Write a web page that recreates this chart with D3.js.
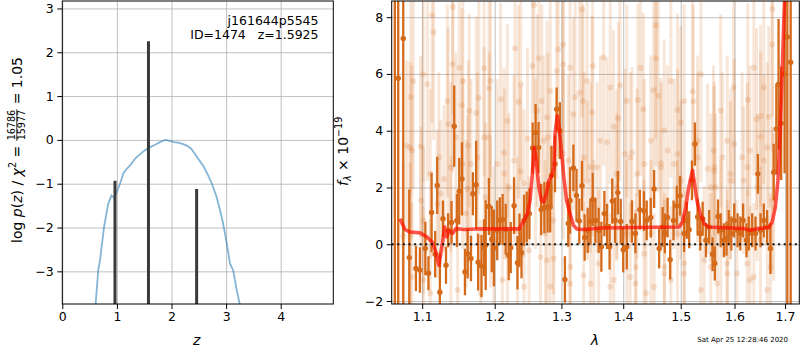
<!DOCTYPE html>
<html>
<head>
<meta charset="utf-8">
<script src="https://cdn.jsdelivr.net/npm/d3@7"></script>
<style>
body { margin: 0; background: #fff; }
svg text { font-family: "DejaVu Sans", sans-serif; white-space: pre; }
.grid line { stroke: #b0b0b0; stroke-width: 0.8; }
.grid path { display: none; }
.axis path { display: none; }
.axis line { stroke: #000; stroke-width: 1; }
.axis text { font-size: 12.5px; fill: #000; }
</style>
</head>
<body>
<div id="chart"></div>
<script>
// ---- data: left panel, log p(z)
var zTicks = [0, 1, 2, 3, 4];
var logpTicks = [-3, -2, -1, 0, 1, 2, 3];
var pzCurve = [[0.59,-3.95],[0.61,-3.75],[0.66,-2.95],[0.69,-2.75],[0.764,-1.99],[0.84,-1.46],[0.90,-1.27],[0.95,-1.32],
  [0.997,-1.19],[1.057,-1.0],[1.12,-0.76],[1.18,-0.66],[1.25,-0.57],[1.33,-0.43],[1.42,-0.33],[1.51,-0.24],
  [1.60,-0.17],[1.70,-0.11],[1.79,-0.05],[1.88,0.0],[1.97,-0.02],[2.05,-0.05],[2.12,-0.06],[2.20,-0.09],
  [2.28,-0.13],[2.36,-0.2],[2.43,-0.32],[2.50,-0.45],[2.58,-0.59],[2.66,-0.78],[2.74,-1.0],[2.82,-1.28],
  [2.89,-1.61],[2.94,-1.88],[2.98,-2.14],[3.03,-2.5],[3.07,-2.82],[3.13,-2.98],[3.19,-3.4],[3.25,-3.75],[3.28,-3.95]];
// narrow peaks: [z, top]
var pzPeaks = [[0.965, -0.93], [1.578, 2.25], [2.46, -1.12]];
var idLines = ["j161644p5545", "ID=1474   z=1.5925"];

// ---- data: right panel, spectrum
var lamTicks = [1.1, 1.2, 1.3, 1.4, 1.5, 1.6, 1.7];
var fluxTicks = [-2, 0, 2, 4, 6, 8];
var strongLam = [1.0645,1.0688,1.0753,1.0831,1.0918,1.0970,1.1042,1.1083,1.1125,1.1172,1.1200,1.1236,1.1278,1.1319,1.1347,
  1.1394,1.1431,1.1468,1.1500,1.1538,1.1579,1.1617,1.1663,1.1690,1.1736,1.1764,1.1811,1.1847,1.1871,1.1917,1.1958,1.1989,
  1.2036,1.2074,1.2114,1.2159,1.2203,1.2233,1.2282,1.2332,1.2362,1.2392,1.2430,1.2470,1.2510,1.2559,1.2603,1.2648,1.2688,
  1.2737,1.2786,1.2826,1.2845,1.2900,1.2926,1.2975,1.3054,1.3107,1.3135,1.3188,1.3237,1.3281,1.3325,1.3367,1.3416,1.3459,
  1.3497,1.3541,1.3594,1.3638,1.3687,1.3731,1.3773,1.3817,1.3865,1.3910,1.3958,1.4000,1.4060,1.4148,1.4206,1.4282,1.4353,
  1.4400,1.4471,1.4529,1.4617,1.4677,1.4718,1.4765,1.4811,1.4871,1.4929,1.4988,1.5061,1.5110,1.5153,1.5203,1.5258,1.5308,
  1.5355,1.5400,1.5460,1.5521,1.5584,1.5626,1.5687,1.5737,1.5797,1.5847,1.5890,1.5939,1.5994,1.6059,1.6112,1.6166,1.6231,
  1.6276,1.6343,1.6408,1.6454,1.6507,1.6572,1.6639,1.6704,1.6770,1.6823,1.6868,1.6921,1.6990,1.7046,1.7115];
var strongFlux = [-3.0,5.85,7.25,-0.47,-0.85,-0.91,-0.15,-1.02,1.12,-0.35,2.07,-1.69,0.90,-0.74,0.49,
  0.77,4.16,0.84,1.87,2.30,-0.98,-0.33,-0.50,1.78,2.10,-0.63,-0.77,-0.12,-0.03,1.33,0.18,-0.13,
  0.49,0.84,0.87,0.53,-0.39,-0.12,1.36,-0.65,0.14,-0.30,0.84,0.96,1.08,3.39,3.94,3.41,1.22,
  1.29,1.31,1.31,2.42,2.83,4.76,4.00,-1.24,0.73,1.54,2.69,1.72,0.82,2.06,0.24,0.49,0.80,
  1.57,0.84,0.49,-0.09,1.08,0.63,-0.09,1.52,0.84,1.82,0.80,-0.19,-0.09,0.80,0.38,1.22,1.17,
  0.84,0.94,1.95,-0.15,0.61,0.38,0.94,-0.54,0.84,1.36,1.71,0.38,0.84,0.51,2.25,3.53,0.96,
  0.38,0.90,0.14,0.61,-0.35,-0.68,0.98,0.49,0.14,0.20,0.61,0.38,0.84,0.49,0.38,0.84,0.14,
  0.38,0.49,0.38,2.48,0.49,0.84,0.61,-0.15,2.54,4.06,5.64,4.26,6.00,7.30,6.41];
var strongErr = [15,15,12,2.4,0.8,0.8,0.94,0.6,1.4,0.82,1.0,1.4,0.64,0.65,0.6,
  0.75,1.43,0.94,1.17,1.29,0.82,0.88,0.8,0.76,1.55,1.0,1.1,1.0,1.58,1.0,1.17,1.35,
  1.05,0.82,0.9,0.9,0.88,0.9,1.0,0.94,0.94,0.9,0.9,0.9,0.9,0.9,1.0,0.9,0.9,
  0.9,0.9,0.9,1.05,1.0,0.76,1.0,0.82,0.82,1.17,0.82,0.94,0.8,0.88,0.82,0.8,0.8,
  0.94,0.8,0.8,0.88,0.8,0.8,0.8,0.8,0.8,0.76,0.8,0.8,0.8,0.75,0.7,0.7,0.7,
  0.7,0.7,0.67,0.7,0.7,0.7,0.7,0.7,0.7,0.7,0.7,0.65,0.65,0.65,0.7,0.76,0.65,
  0.6,0.6,0.6,0.6,0.6,0.6,0.6,0.6,0.6,0.6,0.6,0.6,0.6,0.6,0.6,0.6,0.6,
  0.6,0.6,0.6,0.7,0.6,0.6,0.6,0.9,1.0,1.6,2.3,2.0,3.5,15,15];

var faintLam = [1.1131,1.1153,1.1413,1.1408,1.1500,1.1069,1.0883,1.0849,1.1538,1.1347,1.0797,1.0979,1.0866,1.1663,1.1385,
  1.1292,1.0987,1.1200,1.0753,1.1014,1.0862,1.1478,1.1107,1.1617,1.1246,1.1454,1.1625,1.1547,1.2297,1.1847,1.2555,1.2653,
  1.2826,1.1774,1.1917,1.2085,1.2347,1.2697,1.1736,1.1850,1.1920,1.2134,1.2481,1.2792,1.2381,1.2430,1.2140,1.1940,1.2183,
  1.2504,1.2678,1.2826,1.2110,1.2430,1.1801,1.2579,1.3325,1.3675,1.3497,1.3946,1.3216,1.3286,1.3341,1.3487,1.3919,1.3838,
  1.3731,1.3188,1.4148,1.3459,1.2875,1.2880,1.3135,1.3351,1.3594,1.3784,1.4118,1.3026,1.3030,1.2951,1.4559,1.4562,1.4519,
  1.4601,1.4247,1.4342,1.4942,1.5215,1.5226,1.5000,1.4705,1.5602,1.5492,1.4647,1.4882,1.4353,1.4529,1.4206,1.4823,1.5368,
  1.5552,1.5061,1.4710,1.4388,1.6256,1.6428,1.6507,1.6671,1.6738,1.6744,1.5994,1.5768,1.5613,1.6178,1.6510,1.6146,1.5675,
  1.6047,1.6375,1.6639,1.5859,1.6244,1.6740,1.5644,1.2727,1.3026,1.3355,1.3568,1.3893,1.4120,1.4358,1.4650,1.4945,1.5308,
  1.5616,1.5921,1.6248,1.6572,1.2777,1.3138,1.3462,1.3842,1.4217,1.4708,1.5064,1.5429,1.5862,1.6299,1.6704,
  1.0840,1.1014,1.1639,1.1338,1.1550,1.1222,1.1107,1.1593,1.0845,1.1385,1.1018,1.1940,1.2183,1.2381,1.2629,1.2777,
  1.1756,1.2036,1.2282,1.2603,1.1871,1.2207,1.2752,1.1986,1.2332,1.2926,1.3135,1.3406,1.3784,1.4060,1.3622,1.4030,
  1.3107,1.3410,1.3893,1.3513,1.4063,1.4295,1.4823,1.5368,1.5061,1.4471,1.4765,1.5308,1.4236,1.5000,1.5552,1.4475,
  1.4942,1.5737,1.5982,1.6375,1.6572,1.5859,1.6299,1.6639,1.5921,1.6442,1.5740,1.6507,1.6770];
var faintFlux = [8.07,7.47,8.36,6.34,6.22,5.64,5.75,5.19,4.91,4.23,3.47,3.44,3.30,2.83,2.71,
  2.30,1.54,1.43,0.28,-1.26,-1.15,-1.61,-1.73,1.95,1.78,3.76,3.47,2.83,6.90,6.20,6.28,6.55,
  5.40,5.15,5.50,5.11,5.02,5.05,4.62,3.76,3.76,3.22,3.72,3.76,2.57,2.15,2.48,1.08,-0.45,
  -0.21,-0.45,-1.50,-1.26,-1.50,-1.73,8.42,8.27,6.57,6.28,5.60,5.18,5.34,5.05,4.64,4.44,4.14,
  3.59,4.58,3.24,2.71,0.84,-0.50,-1.38,-1.09,-0.68,-1.50,-1.15,7.04,6.34,6.87,7.72,6.55,5.43,
  5.23,5.08,4.76,4.73,5.38,5.03,4.29,4.02,3.30,2.66,2.85,2.83,-0.33,-1.50,-1.38,-1.26,-1.61,
  -0.80,-1.03,-0.80,-1.73,5.09,4.41,4.52,4.49,7.04,8.30,3.53,3.06,2.57,2.25,3.79,3.06,-1.38,
  -1.03,-1.15,-1.61,-0.68,-0.68,1.54,2.01,3.65,3.18,3.06,2.71,2.48,3.06,2.83,2.71,3.18,3.06,
  2.71,2.48,2.71,2.95,-0.56,-0.80,-1.38,-1.26,-0.80,-1.03,-0.68,-0.56,-1.03,-1.26,-0.80,
  3.41,5.99,4.70,5.05,5.75,3.06,2.48,1.08,0.26,0.49,0.84,5.75,4.35,5.64,4.70,4.47,
  3.06,2.83,2.95,2.83,1.66,2.01,0.38,0.14,0.49,6.10,6.22,5.75,5.52,5.05,3.65,3.18,
  2.95,2.25,2.01,0.38,0.38,6.22,5.75,5.99,5.05,3.65,3.30,3.65,2.48,2.25,2.01,0.38,
  0.38,4.70,5.52,6.22,5.52,3.65,3.30,3.41,2.25,2.01,0.38,0.14,1.31];
var faintErr = [3.8,3.8,3.8,3.8,3.8,3.4,3.8,3.4,3.4,3.4,3.0,3.2,3.0,3.0,3.0,
  2.6,2.6,2.6,2.6,2.6,2.6,2.6,2.6,2.6,2.6,3.0,3.0,3.0,3.8,3.8,3.8,3.8,
  3.4,3.4,3.4,3.4,3.4,3.4,3.4,3.2,3.0,3.0,3.2,3.0,3.0,2.6,3.0,2.6,2.6,
  2.6,2.6,2.6,2.6,2.6,2.6,3.8,3.8,3.8,3.8,3.4,3.4,3.4,3.4,3.4,3.4,3.4,
  3.0,3.4,3.0,3.0,2.6,2.6,2.6,2.6,2.6,2.6,2.6,3.8,3.8,3.8,4.0,3.8,3.4,
  3.4,3.4,3.4,3.4,3.4,3.4,3.4,3.2,3.0,3.0,3.0,3.0,2.6,2.6,2.6,2.6,2.6,
  2.6,2.6,2.6,2.6,3.4,3.2,3.2,3.2,3.8,3.8,3.0,3.0,3.0,2.6,3.0,3.0,2.6,
  2.6,2.6,2.6,2.6,2.6,2.6,2.6,3.0,3.0,3.0,3.0,3.0,3.0,3.0,3.0,3.0,3.0,
  3.0,3.0,3.0,3.0,2.6,2.6,2.6,2.6,2.6,2.6,2.6,2.6,2.6,2.6,2.6,
  3.0,3.8,3.4,3.4,3.4,3.0,3.0,2.6,2.6,2.6,2.6,3.4,3.4,3.4,3.4,3.4,
  3.0,3.0,3.0,3.0,2.6,2.6,2.6,2.6,2.6,3.8,3.8,3.4,3.4,3.4,3.0,3.0,
  3.0,2.8,2.6,2.6,2.6,3.8,3.4,3.8,3.4,3.0,3.0,3.0,3.0,2.8,2.6,2.6,
  2.6,3.4,3.4,3.8,3.4,3.0,3.0,3.0,2.8,2.6,2.6,2.6,2.6];

var modelLam = [1.0710,1.0775,1.0840,1.0970,1.1061,1.1131,1.1176,1.1222,1.1269,1.1301,1.1329,1.1361,1.1408,1.1454,1.1569,
  1.1732,1.2356,1.2430,1.2480,1.2519,1.2555,1.2579,1.2603,1.2653,1.2693,1.2727,1.2767,1.2807,1.2851,1.2886,1.2900,1.2935,
  1.2964,1.3000,1.3037,1.3081,1.3135,1.3188,1.3243,1.3351,1.3459,1.3622,1.4176,1.4970,1.5031,1.5092,1.5134,1.5184,1.5215,
  1.5245,1.5295,1.5355,1.5429,1.5503,1.5921,1.6178,1.6296,1.6442,1.6671,1.6738,1.6803,1.6856,1.6888,1.6921,1.6955,1.6980,1.7000];
var modelFlux = [0.90,0.52,0.43,0.40,0.26,0.08,-0.23,-0.74,0.02,0.61,0.26,0.49,0.38,0.55,0.52,
  0.54,0.54,0.84,1.08,1.54,2.48,3.41,3.18,2.01,1.54,1.48,1.78,2.25,2.42,2.71,3.88,4.53,
  4.12,3.30,2.36,1.54,1.08,0.67,0.54,0.52,0.54,0.57,0.59,0.61,0.78,1.31,1.89,2.36,2.60,
  2.19,1.54,1.08,0.73,0.61,0.57,0.55,0.49,0.55,0.59,0.78,1.31,2.25,3.41,5.05,6.81,8.09,9.0];

var stamp = "Sat Apr 25 12:28:46 2020";

// ---- figure
var W = 800, H = 350;
var orange = "#d46a1a";
var svg = d3.select("#chart").append("svg").attr("width", W).attr("height", H);

// left panel box
var L = { left: 62.3, right: 333.3, top: 1, bottom: 304 };
var xz = d3.scaleLinear().domain([0, 4.963]).range([L.left, L.right]);
var ylp = d3.scaleLinear().domain([-3.745, 3.17]).range([L.bottom, L.top]);

// right panel box
var R = { left: 391.7, right: 799.3, top: 1, bottom: 304 };
var xl = d3.scaleLog().domain([1.0605, 1.7293]).range([R.left, R.right]);
var yf = d3.scaleLinear().domain([-2.105, 8.57]).range([R.bottom, R.top]);

var defs = svg.append("defs");
defs.append("clipPath").attr("id", "clipL").append("rect")
  .attr("x", L.left).attr("y", L.top).attr("width", L.right - L.left).attr("height", L.bottom - L.top);
defs.append("clipPath").attr("id", "clipR").append("rect")
  .attr("x", R.left).attr("y", R.top).attr("width", R.right - R.left).attr("height", R.bottom - R.top);

// grids
svg.append("g").attr("class", "grid").attr("transform", "translate(0," + L.bottom + ")")
  .call(d3.axisBottom(xz).tickValues(zTicks).tickSize(-(L.bottom - L.top)).tickFormat(""));
svg.append("g").attr("class", "grid").attr("transform", "translate(" + L.left + ",0)")
  .call(d3.axisLeft(ylp).tickValues(logpTicks).tickSize(-(L.right - L.left)).tickFormat(""));
svg.append("g").attr("class", "grid").attr("transform", "translate(0," + R.bottom + ")")
  .call(d3.axisBottom(xl).tickValues(lamTicks).tickSize(-(R.bottom - R.top)).tickFormat(""));
svg.append("g").attr("class", "grid").attr("transform", "translate(" + R.left + ",0)")
  .call(d3.axisLeft(yf).tickValues(fluxTicks).tickSize(-(R.right - R.left)).tickFormat(""));

// left panel marks
var gl = svg.append("g").attr("clip-path", "url(#clipL)");
var line = d3.line().x(function(d){ return xz(d[0]); }).y(function(d){ return ylp(d[1]); });
gl.append("path").attr("d", line(pzCurve)).attr("fill", "none")
  .attr("stroke", "#1f77b4").attr("stroke-opacity", 0.55).attr("stroke-width", 1.8);
gl.selectAll("line.peak").data(pzPeaks).enter().append("line").attr("class", "peak")
  .attr("x1", function(d){ return xz(d[0]); }).attr("x2", function(d){ return xz(d[0]); })
  .attr("y1", ylp(-4)).attr("y2", function(d){ return ylp(d[1]); })
  .attr("stroke", "#3a3a3a").attr("stroke-width", 3);

// right panel marks
var gr = svg.append("g").attr("clip-path", "url(#clipR)");
var faint = d3.range(faintLam.length);
gr.selectAll("line.fbar").data(faint).enter().append("line").attr("class", "fbar")
  .attr("x1", function(i){ return xl(faintLam[i]); }).attr("x2", function(i){ return xl(faintLam[i]); })
  .attr("y1", function(i){ return yf(faintFlux[i] - faintErr[i]); })
  .attr("y2", function(i){ return yf(faintFlux[i] + faintErr[i]); })
  .attr("stroke", orange).attr("stroke-opacity", 0.17).attr("stroke-width", 3);
gr.selectAll("circle.fdot").data(faint).enter().append("circle").attr("class", "fdot")
  .attr("cx", function(i){ return xl(faintLam[i]); }).attr("cy", function(i){ return yf(faintFlux[i]); })
  .attr("r", 3).attr("fill", orange).attr("fill-opacity", 0.18);

var strong = d3.range(strongLam.length);
gr.selectAll("line.sbar").data(strong).enter().append("line").attr("class", "sbar")
  .attr("x1", function(i){ return xl(strongLam[i]); }).attr("x2", function(i){ return xl(strongLam[i]); })
  .attr("y1", function(i){ return yf(strongFlux[i] - strongErr[i]); })
  .attr("y2", function(i){ return yf(strongFlux[i] + strongErr[i]); })
  .attr("stroke", orange).attr("stroke-width", 2.3);
gr.selectAll("circle.sdot").data(strong).enter().append("circle").attr("class", "sdot")
  .attr("cx", function(i){ return xl(strongLam[i]); }).attr("cy", function(i){ return yf(strongFlux[i]); })
  .attr("r", 2.7).attr("fill", orange);

var mline = d3.line().x(function(d, i){ return xl(modelLam[i]); }).y(function(d){ return yf(d); });
gr.append("path").attr("d", mline(modelFlux)).attr("fill", "none")
  .attr("stroke", "#ff0d00").attr("stroke-opacity", 0.7).attr("stroke-width", 3.6)
  .attr("stroke-linejoin", "round");

gr.append("line").attr("x1", R.left).attr("x2", R.right).attr("y1", yf(0)).attr("y2", yf(0))
  .attr("stroke", "#111").attr("stroke-width", 2).attr("stroke-dasharray", "2,3.6");

// axes
function ax(g, a) { g.call(a); g.attr("class", "axis"); return g; }
ax(svg.append("g").attr("transform", "translate(0," + L.bottom + ")"),
  d3.axisBottom(xz).tickValues(zTicks).tickSize(5).tickPadding(3.5).tickFormat(d3.format("d")));
ax(svg.append("g").attr("transform", "translate(" + L.left + ",0)"),
  d3.axisLeft(ylp).tickValues(logpTicks).tickSize(5).tickPadding(3.5).tickFormat(d3.format("d")));
ax(svg.append("g").attr("transform", "translate(0," + R.bottom + ")"),
  d3.axisBottom(xl).tickValues(lamTicks).tickSize(5).tickPadding(3.5).tickFormat(d3.format(".1f")));
ax(svg.append("g").attr("transform", "translate(" + R.left + ",0)"),
  d3.axisLeft(yf).tickValues(fluxTicks).tickSize(5).tickPadding(3.5).tickFormat(d3.format("d")));

// spines
[L, R].forEach(function(b){
  svg.append("rect").attr("x", b.left).attr("y", b.top).attr("width", b.right - b.left)
    .attr("height", b.bottom - b.top).attr("fill", "none").attr("stroke", "#000").attr("stroke-width", 1);
});

// id text
svg.selectAll("text.idt").data(idLines).enter().append("text").attr("class", "idt")
  .attr("x", 318.5).attr("y", function(d, i){ return 24.5 + i * 14; })
  .attr("text-anchor", "end").attr("font-size", "12.5px").text(function(d){ return d; });

// axis titles
svg.append("text").attr("x", xz(2.46)).attr("y", 345).attr("text-anchor", "middle")
  .attr("font-size", "14px").attr("font-style", "italic").text("z");
svg.append("text").attr("x", 595).attr("y", 345).attr("text-anchor", "middle")
  .attr("font-size", "14px").attr("font-style", "italic").text("λ");

// pieces laid out along a rotated baseline
function mathLabel(g, pieces) {
  var x = 0;
  pieces.forEach(function(p){
    if (p.frac) {
      var n = g.append("text").attr("font-size", "9.6px").attr("y", -7.2).text(p.frac[0]);
      var d = g.append("text").attr("font-size", "9.6px").attr("y", 2.6).text(p.frac[1]);
      var w = Math.max(n.node().getComputedTextLength(), d.node().getComputedTextLength()) + 2;
      n.attr("x", x + w / 2).attr("text-anchor", "middle");
      d.attr("x", x + w / 2).attr("text-anchor", "middle");
      g.append("line").attr("x1", x + 0.5).attr("x2", x + w - 0.5).attr("y1", -5.2).attr("y2", -5.2)
        .attr("stroke", "#000").attr("stroke-width", 0.8);
      x += w;
      return;
    }
    var t = g.append("text").attr("x", x).attr("y", p.dy || 0)
      .attr("font-size", (p.size || 14) + "px").attr("font-style", p.it ? "italic" : "normal")
      .text(p.t);
    x += t.node().getComputedTextLength();
  });
  return x;
}
var gy1 = svg.append("g").attr("transform", "translate(22,243) rotate(-90)");
mathLabel(gy1, [
  {t: "log "}, {t: "p", it: true}, {t: "("}, {t: "z", it: true}, {t: ") / "},
  {t: "χ", it: true}, {t: "2", size: 9.6, dy: -6}, {t: " = "},
  {frac: ["16786", "15977"]}, {t: " = 1.05"}
]);
var gy2 = svg.append("g").attr("transform", "translate(348,186) rotate(-90)");
mathLabel(gy2, [
  {t: "f", it: true}, {t: "λ", it: true, size: 9.6, dy: 3}, {t: " × 10"}, {t: "−19", size: 9.6, dy: -6}
]);

svg.append("text").attr("x", 788).attr("y", 342).attr("text-anchor", "end")
  .attr("font-size", "7px").text(stamp);
</script>
</body>
</html>
